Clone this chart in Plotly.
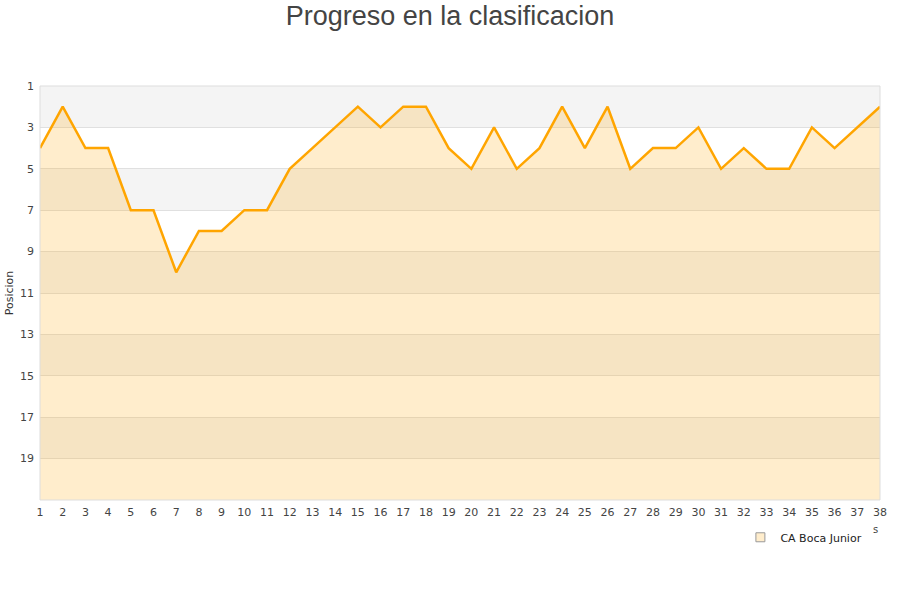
import plotly.graph_objects as go

# Jornadas y posiciones
jornadas = list(range(1, 39))
posiciones = [4, 2, 4, 4, 7, 7, 10, 8, 8, 7, 7, 5, 4, 3, 2, 3, 2, 2, 4, 5,
              3, 5, 4, 2, 4, 2, 5, 4, 4, 3, 5, 4, 5, 5, 3, 4, 3, 2]
y_ticks = [1, 3, 5, 7, 9, 11, 13, 15, 17, 19]
equipo = 'CA Boca Junior'
fondo = 21

fig = go.Figure()

# Linea base invisible para rellenar hasta el fondo
fig.add_trace(go.Scatter(x=jornadas, y=[fondo] * len(jornadas), mode='lines',
                         line=dict(width=0), showlegend=False, hoverinfo='skip'))

fig.add_trace(go.Scatter(x=jornadas, y=posiciones, mode='lines', fill='tonexty',
                         fillcolor='rgba(255,165,0,0.2)',
                         line=dict(color='#ffa500', width=2.5),
                         name=equipo, showlegend=False))

# Entrada de leyenda
fig.add_trace(go.Scatter(x=[None], y=[None], mode='markers', name=equipo,
                         marker=dict(symbol='square', size=9, color='#ffedcc',
                                     line=dict(color='#999999', width=1))))

# Bandas alternas
shapes = []
for y0 in range(1, fondo, 4):
    shapes.append(dict(type='rect', xref='paper', yref='y', x0=0, x1=1,
                       y0=y0, y1=y0 + 2, fillcolor='#f4f4f4', line=dict(width=0),
                       layer='below'))
shapes.append(dict(type='rect', xref='paper', yref='paper', x0=0, x1=1, y0=0, y1=1,
                   line=dict(color='#dddddd', width=1)))

fig.update_layout(
    width=900, height=600,
    paper_bgcolor='white', plot_bgcolor='white',
    margin=dict(l=40, r=20, t=86, b=100),
    title=dict(text='Progreso en la clasificacion', x=0.5, xanchor='center',
               y=0.99, yanchor='top',
               font=dict(family='Liberation Sans, Arial', size=27, color='#444444')),
    font=dict(family='DejaVu Sans', size=11, color='#444444'),
    shapes=shapes,
    xaxis=dict(range=[1, 38], tickmode='array', tickvals=jornadas, automargin=False,
               showgrid=False, zeroline=False, ticks='', ticklabelstandoff=4,
               tickfont=dict(size=11)),
    yaxis=dict(range=[fondo, 1], tickmode='array', tickvals=y_ticks, automargin=False,
               showgrid=True, gridcolor='#e0e0e0', zeroline=False, ticklabelstandoff=5,
               title=dict(text='Posicion', font=dict(size=11, color='#333333'),
                          standoff=4),
               tickfont=dict(size=11)),
    legend=dict(x=0.985, xanchor='right', y=-0.055, yanchor='top',
                font=dict(size=11, color='#222222'), bgcolor='rgba(0,0,0,0)'),
    annotations=[dict(text='s', xref='paper', yref='paper', x=1.0, y=-0.09,
                      showarrow=False, font=dict(size=10, color='#444444'))],
)

# Quitar el margen del body para que el grafico quede en (0, 0)
fig.write_html("out.html", config={'displayModeBar': False},
               post_script="document.body.style.margin='0';")
